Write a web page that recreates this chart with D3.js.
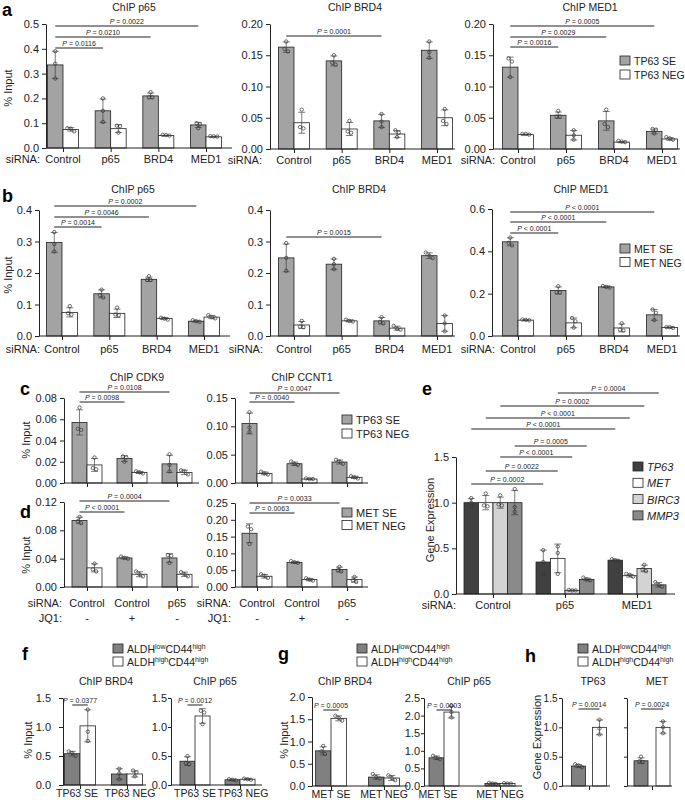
<!DOCTYPE html>
<html>
<head>
<meta charset="utf-8">
<title>ChIP figure</title>
<script src="https://cdn.jsdelivr.net/npm/d3@7"></script>
<style>
  body { margin: 0; background: #fff; }
  svg { font-family: "Liberation Sans", Arial, sans-serif; }
</style>
</head>
<body>
<svg id="fig" width="685" height="800"></svg>
<script>
// ---------- data ----------
const siRNA4 = ["Control", "p65", "BRD4", "MED1"];
const cdSiRNA = ["Control", "Control", "p65"];
const cdJQ1 = ["-", "+", "-"];
const eSiRNA = ["Control", "p65", "MED1"];
const eGenes = ["TP63", "MET", "BIRC3", "MMP3"];
const fCats = ["TP63 SE", "TP63 NEG"];
const gCats = ["MET SE", "MET NEG"];

// a: TP63 SE / NEG
const aP65SE = [0.335, 0.150, 0.210, 0.093];
const aP65SEpts = [[0.39, 0.34, 0.28], [0.20, 0.15, 0.105], [0.225, 0.205, 0.205], [0.10, 0.095, 0.08]];
const aP65NEG = [0.075, 0.078, 0.050, 0.045];
const aP65NEGpts = [[0.08, 0.078, 0.067], [0.09, 0.088, 0.062], [0.053, 0.05, 0.052], [0.048, 0.046, 0.047]];
const aP65sig = [[0, 0, 1, 0, "= 0.0116"], [0, 0, 2, 0, "= 0.0210"], [0, 0, 3, 0, "= 0.0022"]];

const aBRD4SE = [0.163, 0.141, 0.045, 0.158];
const aBRD4SEpts = [[0.172, 0.16, 0.156], [0.150, 0.135, 0.138], [0.056, 0.044, 0.035], [0.172, 0.155, 0.146]];
const aBRD4NEG = [0.042, 0.032, 0.024, 0.050];
const aBRD4NEGpts = [[0.063, 0.035, 0.033], [0.045, 0.028, 0.026], [0.030, 0.026, 0.019], [0.064, 0.045, 0.040]];
const aBRD4sig = [[0, 0, 2, 0, "= 0.0001"]];

const aMED1SE = [0.131, 0.054, 0.045, 0.028];
const aMED1SEpts = [[0.145, 0.140, 0.115], [0.061, 0.052, 0.052], [0.063, 0.040, 0.035], [0.032, 0.031, 0.025]];
const aMED1NEG = [0.023, 0.022, 0.011, 0.016];
const aMED1NEGpts = [[0.024, 0.024, 0.023], [0.030, 0.022, 0.015], [0.013, 0.012, 0.011], [0.019, 0.017, 0.015]];
const aMED1sig = [[0, 0, 1, 0, "= 0.0016"], [0, 0, 2, 0, "= 0.0029"], [0, 0, 3, 0, "= 0.0005"]];

// b: MET SE / NEG
const bP65SE = [0.297, 0.134, 0.180, 0.047];
const bP65SEpts = [[0.330, 0.292, 0.268], [0.147, 0.130, 0.122], [0.190, 0.178, 0.178], [0.050, 0.047, 0.045]];
const bP65NEG = [0.075, 0.072, 0.056, 0.060];
const bP65NEGpts = [[0.095, 0.072, 0.068], [0.090, 0.068, 0.066], [0.058, 0.055, 0.052], [0.066, 0.060, 0.056]];
const bP65sig = [[0, 0, 1, 0, "= 0.0014"], [0, 0, 2, 0, "= 0.0046"], [0, 0, 3, 0, "= 0.0002"]];

const bBRD4SE = [0.248, 0.228, 0.048, 0.255];
const bBRD4SEpts = [[0.295, 0.248, 0.207], [0.245, 0.228, 0.212], [0.060, 0.045, 0.040], [0.265, 0.255, 0.247]];
const bBRD4NEG = [0.035, 0.048, 0.025, 0.040];
const bBRD4NEGpts = [[0.048, 0.030, 0.028], [0.052, 0.048, 0.046], [0.032, 0.023, 0.020], [0.065, 0.040, 0.015]];
const bBRD4sig = [[0, 0, 2, 0, "= 0.0015"]];

const bMED1SE = [0.445, 0.215, 0.232, 0.100];
const bMED1SEpts = [[0.465, 0.440, 0.428], [0.235, 0.207, 0.205], [0.236, 0.232, 0.229], [0.125, 0.110, 0.075]];
const bMED1NEG = [0.075, 0.062, 0.038, 0.040];
const bMED1NEGpts = [[0.078, 0.076, 0.074], [0.085, 0.070, 0.040], [0.060, 0.030, 0.026], [0.042, 0.042, 0.038]];
const bMED1sig = [[0, 0, 1, 0, "< 0.0001"], [0, 0, 2, 0, "< 0.0001"], [0, 0, 3, 0, "< 0.0001"]];

// c: TP63, d: MET
const cCDK9SE = [0.057, 0.023, 0.018];
const cCDK9SEpts = [[0.071, 0.051, 0.050], [0.025, 0.024, 0.020], [0.027, 0.017, 0.011]];
const cCDK9NEG = [0.017, 0.010, 0.010];
const cCDK9NEGpts = [[0.024, 0.014, 0.013], [0.011, 0.010, 0.009], [0.012, 0.011, 0.008]];
const cCDK9sig = [[0, 0, 1, 0, "= 0.0098"], [0, 0, 2, 0, "= 0.0108"]];

const cCCNT1SE = [0.105, 0.034, 0.037];
const cCCNT1SEpts = [[0.125, 0.098, 0.090], [0.038, 0.034, 0.032], [0.041, 0.038, 0.034]];
const cCCNT1NEG = [0.017, 0.007, 0.010];
const cCCNT1NEGpts = [[0.020, 0.017, 0.015], [0.008, 0.007, 0.007], [0.012, 0.010, 0.008]];
const cCCNT1sig = [[0, 0, 1, 0, "= 0.0040"], [0, 0, 2, 0, "= 0.0047"]];

const dCDK9SE = [0.094, 0.041, 0.041];
const dCDK9SEpts = [[0.099, 0.093, 0.090], [0.043, 0.041, 0.040], [0.045, 0.044, 0.034]];
const dCDK9NEG = [0.027, 0.018, 0.018];
const dCDK9NEGpts = [[0.033, 0.025, 0.022], [0.022, 0.018, 0.015], [0.021, 0.018, 0.015]];
const dCDK9sig = [[0, 0, 1, 0, "< 0.0001"], [0, 0, 2, 0, "= 0.0004"]];

const dCCNT1SE = [0.160, 0.073, 0.052];
const dCCNT1SEpts = [[0.180, 0.172, 0.128], [0.077, 0.074, 0.072], [0.060, 0.050, 0.046]];
const dCCNT1NEG = [0.032, 0.022, 0.022];
const dCCNT1NEGpts = [[0.038, 0.033, 0.027], [0.026, 0.022, 0.019], [0.030, 0.020, 0.015]];
const dCCNT1sig = [[0, 0, 1, 0, "= 0.0063"], [0, 0, 2, 0, "= 0.0033"]];

// e: gene expression
const eTP63 = [1.0, 0.35, 0.37];
const eTP63pts = [[1.05, 1.0, 0.96], [0.48, 0.35, 0.22], [0.38, 0.37, 0.36]];
const eMET = [1.0, 0.39, 0.20];
const eMETpts = [[1.10, 0.97, 0.96], [0.52, 0.45, 0.22], [0.22, 0.21, 0.19]];
const eBIRC3 = [1.0, 0.04, 0.28];
const eBIRC3pts = [[1.08, 0.98, 0.97], [0.045, 0.04, 0.04], [0.32, 0.27, 0.25]];
const eMMP3 = [1.0, 0.16, 0.10];
const eMMP3pts = [[1.15, 0.95, 0.90], [0.18, 0.16, 0.15], [0.13, 0.10, 0.08]];
const eSig = [[0, 0, 1, 0, "= 0.0002"], [0, 1, 1, 1, "= 0.0022"], [0, 2, 1, 2, "< 0.0001"], [0, 3, 1, 3, "= 0.0005"],
              [0, 0, 2, 0, "< 0.0001"], [0, 1, 2, 1, "< 0.0001"], [0, 2, 2, 2, "= 0.0002"], [1, 1, 2, 3, "= 0.0004"]];

// f, g, h: ALDH low / high
const fBRD4Low = [0.54, 0.19];
const fBRD4LowPts = [[0.58, 0.55, 0.50], [0.28, 0.20, 0.10]];
const fBRD4High = [1.02, 0.19];
const fBRD4HighPts = [[1.30, 0.92, 0.76], [0.25, 0.22, 0.15]];
const fP65Low = [0.41, 0.09];
const fP65LowPts = [[0.50, 0.38, 0.36], [0.10, 0.09, 0.08]];
const fP65High = [1.19, 0.10];
const fP65HighPts = [[1.28, 1.25, 1.05], [0.11, 0.10, 0.09]];
const gBRD4Low = [0.79, 0.20];
const gBRD4LowPts = [[0.90, 0.78, 0.72], [0.27, 0.20, 0.17]];
const gBRD4High = [1.52, 0.18];
const gBRD4HighPts = [[1.58, 1.53, 1.47], [0.24, 0.18, 0.13]];
const gP65Low = [0.80, 0.07];
const gP65LowPts = [[0.86, 0.80, 0.76], [0.09, 0.07, 0.06]];
const gP65High = [2.10, 0.07];
const gP65HighPts = [[2.28, 2.10, 1.95], [0.08, 0.07, 0.07]];
const hTP63Low = [0.34];
const hTP63LowPts = [[0.37, 0.35, 0.32]];
const hTP63High = [1.0];
const hTP63HighPts = [[1.13, 0.98, 0.88]];
const hMETLow = [0.43];
const hMETLowPts = [[0.50, 0.42, 0.41]];
const hMETHigh = [1.0];
const hMETHighPts = [[1.10, 1.00, 0.90]];
const fBRD4sig = [[0, 0, 0, 1, "= 0.0377"]];
const fP65sig = [[0, 0, 0, 1, "= 0.0012"]];
const gBRD4sig = [[0, 0, 0, 1, "= 0.0005"]];
const gP65sig = [[0, 0, 0, 1, "= 0.0003"]];
const hTP63sig = [[0, 0, 0, 1, "= 0.0014"]];
const hMETsig = [[0, 0, 0, 1, "= 0.0024"]];

// ---------- drawing ----------
const svg = d3.select("#fig");
const ink = "#222";
const seGrey = "#a3a3a3", lowGrey = "#808080";

function pLabel(g, x, y, txt) {
    const t = g.append("text").attr("x", x).attr("y", y)
        .attr("text-anchor", "middle").attr("font-size", 7).attr("fill", ink);
    t.append("tspan").attr("font-style", "italic").text("P");
    t.append("tspan").text(" " + txt);
}

function barPanel(o) {
    const g = svg.append("g");
    const y = d3.scaleLinear().domain([0, o.max]).range([o.yBot, o.yTop]);
    const n = o.series[0].v.length;
    const x = d3.scalePoint().domain(d3.range(n)).range(o.cx);
    const k = o.series.length, bw = o.bw, gap = o.gap || 0;
    const left = (i, s) => x(i) - (k * bw + (k - 1) * gap) / 2 + s * (bw + gap);
    const mid = (i, s) => left(i, s) + bw / 2;

    // bars
    o.series.forEach((s, si) => {
        g.append("g").selectAll("rect").data(s.v).join("rect")
            .attr("x", (d, i) => left(i, si)).attr("width", bw)
            .attr("y", d => y(d)).attr("height", d => o.yBot - y(d))
            .attr("fill", s.fill).attr("stroke", ink).attr("stroke-width", 0.8);
    });

    // error bars and replicate dots
    o.series.forEach((s, si) => {
        s.v.forEach((m, i) => {
            const sd = d3.deviation(s.pts[i]);
            const cx = mid(i, si);
            const eg = g.append("g").attr("stroke", "#444").attr("stroke-width", 0.7);
            eg.append("line").attr("x1", cx).attr("x2", cx).attr("y1", y(m - sd)).attr("y2", y(m + sd));
            [m - sd, m + sd].forEach(v => eg.append("line")
                .attr("x1", cx - 3.5).attr("x2", cx + 3.5).attr("y1", y(v)).attr("y2", y(v)));
            // spread dots that would overlap
            const py = s.pts[i].map(v => y(v)).sort((a, b) => a - b);
            const off = py.map(() => 0);
            let start = 0;
            for (let j = 1; j <= py.length; j++) {
                if (j === py.length || py[j] - py[j - 1] > 3.2) {
                    const c = j - start;
                    for (let q = start; q < j; q++) off[q] = (q - start - (c - 1) / 2) * 3.4;
                    start = j;
                }
            }
            g.append("g").selectAll("circle").data(py).join("circle")
                .attr("cx", (d, q) => cx + off[q]).attr("cy", d => d).attr("r", 1.7)
                .attr("fill", "none").attr("stroke", "#333").attr("stroke-width", 0.7);
        });
    });

    // y axis
    const ya = d3.axisLeft(y).tickValues(o.ticks).tickSize(o.tickSize || 4).tickSizeOuter(0)
        .tickPadding(o.tickPad || 3)
        .tickFormat(o.noTickLabels ? "" : d3.format(o.fmt));
    g.append("g").attr("transform", `translate(${o.ax},0)`).call(ya)
        .call(a => a.selectAll("text").attr("font-size", o.tickFont || 11).attr("fill", ink).attr("font-family", null))
        .call(a => a.selectAll("line,path").attr("stroke", ink));

    // x axis
    const xa = d3.axisBottom(x).tickSize(4).tickSizeOuter(0).tickFormat("");
    g.append("g").attr("transform", `translate(0,${o.yBot})`).call(xa)
        .call(a => a.select(".domain").attr("d", `M${o.ax},0H${o.axEnd}`))
        .call(a => a.selectAll("line,path").attr("stroke", ink));

    // category labels
    (o.rows || []).forEach(r => {
        const t = g.append("g").attr("font-size", r.font || 11).attr("fill", ink);
        if (r.prefix) t.append("text").attr("x", r.prefixX).attr("y", o.yBot + r.dy)
            .attr("text-anchor", "end").text(r.prefix);
        t.selectAll("text.c").data(r.labels).join("text").attr("class", "c")
            .attr("x", (d, i) => x(i) + (r.shift ? r.shift[i] : 0)).attr("y", o.yBot + r.dy)
            .attr("text-anchor", "middle").text(d => d);
    });

    // title
    if (o.title) g.append("text").attr("x", o.titleX).attr("y", o.titleY)
        .attr("text-anchor", "middle").attr("font-size", 10.5).attr("fill", ink).text(o.title);

    // significance brackets
    (o.sig || []).forEach((s, i) => {
        const x1 = mid(s[0], s[1]), x2 = mid(s[2], s[3]), yy = o.sigY[i];
        g.append("line").attr("x1", x1).attr("x2", x2).attr("y1", yy).attr("y2", yy)
            .attr("stroke", ink).attr("stroke-width", 1);
        pLabel(g, (x1 + x2) / 2, yy - 2, s[4]);
    });
}

function yLabel(x, y, txt) {
    svg.append("text").attr("transform", `translate(${x},${y}) rotate(-90)`)
        .attr("text-anchor", "middle").attr("font-size", 11).attr("fill", ink).text(txt);
}

function letter(x, y, txt) {
    svg.append("text").attr("x", x).attr("y", y).attr("font-size", 18)
        .attr("font-weight", "bold").attr("fill", "#000").text(txt);
}

function legend(x, y0, dy, items, italic, fs) {
    items.forEach((it, i) => {
        svg.append("rect").attr("x", x).attr("y", y0 + i * dy).attr("width", 10).attr("height", 9)
            .attr("fill", it[1]).attr("stroke", ink).attr("stroke-width", 0.8);
        const t = svg.append("text").attr("x", x + 14).attr("y", y0 + i * dy + 9)
            .attr("font-size", fs || 11).attr("fill", ink)
            .attr("font-style", italic ? "italic" : null);
        if (Array.isArray(it[0])) {
            it[0].forEach(p => t.append("tspan").attr("font-size", p[1] ? 7 : (fs || 11))
                .attr("dy", p[1] ? -4 : (p[2] ? 4 : 0)).text(p[0]));
        } else t.text(it[0]);
    });
}

const se = (v, pts) => ({ v, pts, fill: seGrey });
const neg = (v, pts) => ({ v, pts, fill: "#fff" });
const ticksBy = (max, step) => d3.range(0, max + step / 2, step);

// ---- a ----
letter(2, 16, "a");
yLabel(12, 88, "% Input");
barPanel({ ax: 46, axEnd: 232, yTop: 24, yBot: 148, max: 0.5, ticks: ticksBy(0.5, 0.1), fmt: ".1f",
    cx: [63, 206], bw: 15.5, series: [se(aP65SE, aP65SEpts), neg(aP65NEG, aP65NEGpts)],
    title: "ChIP p65", titleX: 134, titleY: 11, sig: aP65sig, sigY: [48, 37, 26],
    rows: [{ labels: siRNA4, dy: 15, prefix: "siRNA:", prefixX: 40 }] });
barPanel({ ax: 270, axEnd: 455, yTop: 24, yBot: 149, max: 0.2, ticks: ticksBy(0.2, 0.05), fmt: ".2f",
    cx: [294, 437], bw: 15.5, series: [se(aBRD4SE, aBRD4SEpts), neg(aBRD4NEG, aBRD4NEGpts)],
    title: "ChIP BRD4", titleX: 355, titleY: 11, sig: aBRD4sig, sigY: [36],
    rows: [{ labels: siRNA4, dy: 15, prefix: "siRNA:", prefixX: 262 }] });
barPanel({ ax: 493, axEnd: 680, yTop: 24, yBot: 149, max: 0.2, ticks: ticksBy(0.2, 0.05), fmt: ".2f",
    cx: [518, 662], bw: 15.5, series: [se(aMED1SE, aMED1SEpts), neg(aMED1NEG, aMED1NEGpts)],
    title: "ChIP MED1", titleX: 590, titleY: 11, sig: aMED1sig, sigY: [47, 37, 26],
    rows: [{ labels: siRNA4, dy: 15, prefix: "siRNA:", prefixX: 495 }] });
legend(620, 56, 14, [["TP63 SE", seGrey], ["TP63 NEG", "#fff"]], false, 10.5);

// ---- b ----
letter(2, 202, "b");
yLabel(12, 275, "% Input");
barPanel({ ax: 39, axEnd: 230, yTop: 210, yBot: 336, max: 0.4, ticks: ticksBy(0.4, 0.1), fmt: ".1f",
    cx: [62, 204], bw: 15.5, series: [se(bP65SE, bP65SEpts), neg(bP65NEG, bP65NEGpts)],
    title: "ChIP p65", titleX: 133, titleY: 193, sig: bP65sig, sigY: [227, 217, 206],
    rows: [{ labels: siRNA4, dy: 17, prefix: "siRNA:", prefixX: 40 }] });
barPanel({ ax: 270, axEnd: 455, yTop: 210, yBot: 336, max: 0.4, ticks: ticksBy(0.4, 0.1), fmt: ".1f",
    cx: [294, 437], bw: 15.5, series: [se(bBRD4SE, bBRD4SEpts), neg(bBRD4NEG, bBRD4NEGpts)],
    title: "ChIP BRD4", titleX: 359, titleY: 193, sig: bBRD4sig, sigY: [237],
    rows: [{ labels: siRNA4, dy: 17, prefix: "siRNA:", prefixX: 263 }] });
barPanel({ ax: 492, axEnd: 680, yTop: 209, yBot: 336, max: 0.6, ticks: ticksBy(0.6, 0.2), fmt: ".1f",
    cx: [518, 662], bw: 15.5, series: [se(bMED1SE, bMED1SEpts), neg(bMED1NEG, bMED1NEGpts)],
    title: "ChIP MED1", titleX: 581, titleY: 193, sig: bMED1sig, sigY: [233, 222, 212],
    rows: [{ labels: siRNA4, dy: 17, prefix: "siRNA:", prefixX: 495 }] });
legend(620, 244, 13.5, [["MET SE", seGrey], ["MET NEG", "#fff"]], false, 10.5);

// ---- c / d ----
letter(20, 395, "c");
letter(20, 518, "d");
yLabel(30, 440, "% Input");
yLabel(30, 555, "% Input");
barPanel({ ax: 64, axEnd: 199, yTop: 398, yBot: 483, max: 0.08, ticks: ticksBy(0.08, 0.02), fmt: ".2f",
    cx: [87, 177], bw: 15, series: [se(cCDK9SE, cCDK9SEpts), neg(cCDK9NEG, cCDK9NEGpts)],
    title: "ChIP CDK9", titleX: 137, titleY: 381, sig: cCDK9sig, sigY: [402, 392] });
barPanel({ ax: 235, axEnd: 368, yTop: 398, yBot: 483, max: 0.15, ticks: ticksBy(0.15, 0.05), fmt: ".2f",
    cx: [257, 347], bw: 15, series: [se(cCCNT1SE, cCCNT1SEpts), neg(cCCNT1NEG, cCCNT1NEGpts)],
    title: "ChIP CCNT1", titleX: 302, titleY: 381, sig: cCCNT1sig, sigY: [402, 393] });
legend(342, 415, 14, [["TP63 SE", seGrey], ["TP63 NEG", "#fff"]]);
barPanel({ ax: 64, axEnd: 199, yTop: 502, yBot: 587, max: 0.12, ticks: ticksBy(0.12, 0.04), fmt: ".2f",
    cx: [87, 177], bw: 15, series: [se(dCDK9SE, dCDK9SEpts), neg(dCDK9NEG, dCDK9NEGpts)],
    sig: dCDK9sig, sigY: [512, 501],
    rows: [{ labels: cdSiRNA, dy: 20, prefix: "siRNA:", prefixX: 62 },
           { labels: cdJQ1, dy: 35, prefix: "JQ1:", prefixX: 62 }] });
barPanel({ ax: 235, axEnd: 368, yTop: 503, yBot: 587, max: 0.25, ticks: ticksBy(0.25, 0.05), fmt: ".2f",
    cx: [257, 347], bw: 15, series: [se(dCCNT1SE, dCCNT1SEpts), neg(dCCNT1NEG, dCCNT1NEGpts)],
    sig: dCCNT1sig, sigY: [513, 503],
    rows: [{ labels: cdSiRNA, dy: 20, prefix: "siRNA:", prefixX: 231 },
           { labels: cdJQ1, dy: 35, prefix: "JQ1:", prefixX: 231 }] });
legend(342, 508, 12.5, [["MET SE", seGrey], ["MET NEG", "#fff"]]);

// ---- e ----
const eFills = ["#404040", "#fff", "#d3d3d3", "#8a8a8a"];
letter(422, 395, "e");
yLabel(434, 520, "Gene Expression");
barPanel({ ax: 456, axEnd: 675, yTop: 457, yBot: 594, max: 1.5, ticks: ticksBy(1.5, 0.5), fmt: ".1f",
    cx: [493, 637], bw: 14.5,
    series: [{ v: eTP63, pts: eTP63pts, fill: eFills[0] }, { v: eMET, pts: eMETpts, fill: eFills[1] },
             { v: eBIRC3, pts: eBIRC3pts, fill: eFills[2] }, { v: eMMP3, pts: eMMP3pts, fill: eFills[3] }],
    sig: eSig, sigY: [484, 471, 457, 446, 429, 418, 406, 393],
    rows: [{ labels: eSiRNA, dy: 15, prefix: "siRNA:", prefixX: 456 }] });
legend(633, 462, 16.3, eGenes.map((gn, i) => [gn, eFills[i]]), true);

// ---- f / g / h ----
const aldh = [[["ALDH"], ["low", 1], ["CD44", 0, 1], ["high", 1]], [["ALDH"], ["high", 1], ["CD44", 0, 1], ["high", 1]]];
const low = (v, pts) => ({ v, pts, fill: lowGrey });
const high = (v, pts) => ({ v, pts, fill: "#fff" });

letter(22, 660, "f");
yLabel(32, 740, "% Input");
legend(113, 644, 13, [[aldh[0], lowGrey], [aldh[1], "#fff"]], false, 10.5);
barPanel({ ax: 63, axEnd: 146, yTop: 698, yBot: 785, max: 1.5, ticks: ticksBy(1.5, 0.5), fmt: ".1f",
    tickPad: 8, cx: [80, 127], bw: 15.5, series: [low(fBRD4Low, fBRD4LowPts), high(fBRD4High, fBRD4HighPts)],
    title: "ChIP BRD4", titleX: 106, titleY: 685, sig: fBRD4sig, sigY: [705],
    rows: [{ labels: fCats, dy: 12, font: 10.5, shift: [-3, 3] }] });
barPanel({ ax: 171, axEnd: 262, yTop: 698, yBot: 785, max: 1.5, ticks: ticksBy(1.5, 0.5), fmt: ".1f",
    tickPad: 1, tickSize: 3, cx: [195, 240], bw: 15, series: [low(fP65Low, fP65LowPts), high(fP65High, fP65HighPts)],
    title: "ChIP p65", titleX: 215, titleY: 685, sig: fP65sig, sigY: [705],
    rows: [{ labels: fCats, dy: 12, font: 10.5, shift: [0, 3] }] });

letter(278, 660, "g");
yLabel(288, 740, "% Input");
legend(357, 644, 13, [[aldh[0], lowGrey], [aldh[1], "#fff"]], false, 10.5);
barPanel({ ax: 312, axEnd: 408, yTop: 697, yBot: 786, max: 2.0, ticks: ticksBy(2.0, 0.5), fmt: ".1f",
    cx: [331, 384], bw: 15.5, series: [low(gBRD4Low, gBRD4LowPts), high(gBRD4High, gBRD4HighPts)],
    title: "ChIP BRD4", titleX: 345, titleY: 685, sig: gBRD4sig, sigY: [710],
    rows: [{ labels: gCats, dy: 12, font: 10.5 }] });
barPanel({ ax: 424, axEnd: 522, yTop: 698, yBot: 786, max: 2.5, ticks: ticksBy(2.5, 0.5), fmt: ".1f",
    tickPad: 1, tickSize: 3, cx: [444, 500], bw: 15, series: [low(gP65Low, gP65LowPts), high(gP65High, gP65HighPts)],
    title: "ChIP p65", titleX: 469, titleY: 685, sig: gP65sig, sigY: [710],
    rows: [{ labels: gCats, dy: 12, font: 10.5, shift: [-6, 0] }] });

letter(525, 662, "h");
yLabel(541, 737, "Gene Expression");
legend(578, 644, 13, [[aldh[0], lowGrey], [aldh[1], "#fff"]], false, 10.5);
barPanel({ ax: 562, axEnd: 610, yTop: 698, yBot: 786, max: 1.5, ticks: ticksBy(1.5, 0.5), fmt: ".1f",
    tickFont: 10, tickPad: 1.5, tickSize: 3,
    cx: [589, 589], bw: 14, gap: 7, series: [low(hTP63Low, hTP63LowPts), high(hTP63High, hTP63HighPts)],
    title: "TP63", titleX: 593, titleY: 685, sig: hTP63sig, sigY: [709] });
barPanel({ ax: 627, axEnd: 672, yTop: 698, yBot: 786, max: 1.5, ticks: ticksBy(1.5, 0.5), fmt: ".1f",
    noTickLabels: true, tickSize: 3,
    cx: [652, 652], bw: 14, gap: 8, series: [low(hMETLow, hMETLowPts), high(hMETHigh, hMETHighPts)],
    title: "MET", titleX: 657, titleY: 685, sig: hMETsig, sigY: [709] });
</script>
</body>
</html>
